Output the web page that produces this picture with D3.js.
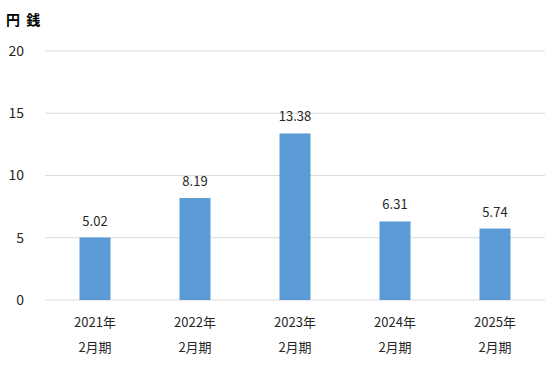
<!DOCTYPE html>
<html><head><meta charset="utf-8">
<script src="https://cdn.jsdelivr.net/npm/d3@7"></script>
<style>body{margin:0;background:#fff;}svg{display:block;font-family:"Noto Sans CJK JP","Noto Sans",sans-serif;}</style>
</head><body><svg id="c" width="558" height="367"></svg>
<script>
const categories = ["2021年", "2022年", "2023年", "2024年", "2025年"];
const subLabels = ["2月期", "2月期", "2月期", "2月期", "2月期"];
const values = [5.02, 8.19, 13.38, 6.31, 5.74];
const yTicks = [0, 5, 10, 15, 20];
const unitLabel = "円 銭";

(function () {
const svg = d3.select("#c");
const mLeft = 45, mRight = 545, mTop = 51, mBottom = 300;
const x = d3.scaleBand().domain(categories).range([mLeft, mRight])
  .paddingInner(0.69).paddingOuter(0.345);
const y = d3.scaleLinear().domain([0, 20]).range([mBottom, mTop]);
const txt = "#262626";

svg.append("g").selectAll("line").data(yTicks).join("line")
  .attr("x1", mLeft).attr("x2", mRight)
  .attr("y1", d => y(d)).attr("y2", d => y(d))
  .attr("stroke", "#d9d9d9").attr("stroke-width", 1);

svg.append("g").selectAll("text").data(yTicks).join("text")
  .attr("x", 24).attr("y", d => y(d)).attr("dy", "0.35em")
  .attr("text-anchor", "end").attr("font-size", 14).attr("fill", txt)
  .text(d => d);

svg.append("text").attr("x", 6).attr("y", 25).attr("font-size", 14)
  .attr("font-weight", "bold").attr("fill", "#000")
  .attr("style", "white-space:pre").text(unitLabel.replace(" ", "  "));

svg.append("g").selectAll("rect").data(values).join("rect")
  .attr("x", (d, i) => x(categories[i])).attr("width", x.bandwidth())
  .attr("y", d => y(d)).attr("height", d => y(0) - y(d))
  .attr("fill", "#5b9bd5");

svg.append("g").selectAll("text").data(values).join("text")
  .attr("x", (d, i) => x(categories[i]) + x.bandwidth() / 2)
  .attr("y", d => y(d) - 12).attr("text-anchor", "middle")
  .attr("font-size", 13).attr("fill", txt).text(d => d.toFixed(2));

svg.append("g").selectAll("text").data(categories).join("text")
  .attr("x", d => x(d) + x.bandwidth() / 2).attr("y", 327)
  .attr("text-anchor", "middle").attr("font-size", 13).attr("fill", txt).text(d => d);

svg.append("g").selectAll("text").data(subLabels).join("text")
  .attr("x", (d, i) => x(categories[i]) + x.bandwidth() / 2).attr("y", 352)
  .attr("text-anchor", "middle").attr("font-size", 13).attr("fill", txt).text(d => d);
})();
</script></body></html>
